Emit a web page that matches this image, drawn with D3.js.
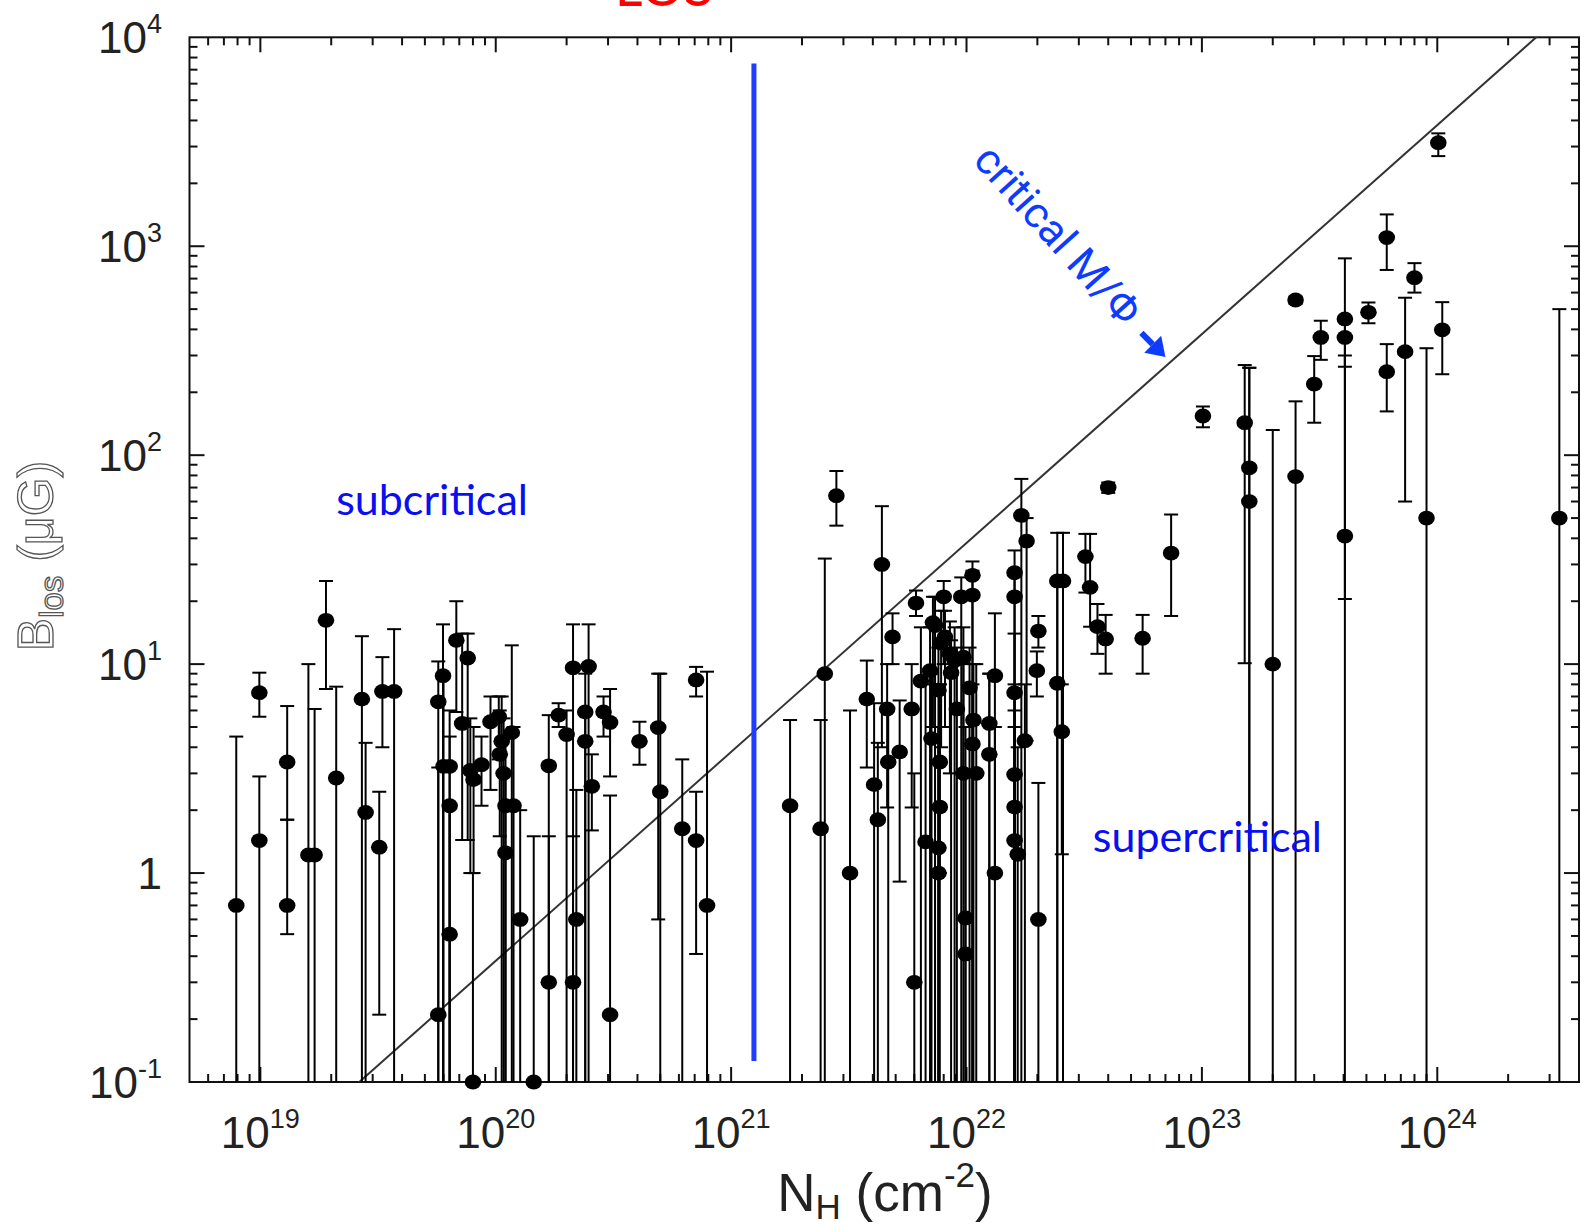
<!DOCTYPE html>
<html>
<head>
<meta charset="utf-8">
<script src="https://cdn.jsdelivr.net/npm/d3@7"></script>
<style>
  body { margin: 0; background: #fff; }
  svg { display: block; }
</style>
</head>
<body>
<div class="chart"></div>
<script>
// each row: [N_H (cm^-2), B_los (uG), lower end of bar, upper end of bar]
// a lower end of 0 means the bar runs off the bottom of the plot
const leftGroup = [
  [7.9e18, 0.70, 0, 4.5], [9.9e18, 7.3, 5.6, 9.1], [9.9e18, 1.43, 0, 2.9],
  [1.3e19, 3.4, 1.8, 6.3], [1.3e19, 0.70, 0.51, 1.8], [1.6e19, 1.22, 0, 10],
  [1.7e19, 1.22, 0, 6.1], [1.9e19, 16.2, 7.6, 25], [2.1e19, 2.85, 0, 7.8],
  [2.7e19, 6.8, 0, 13.6], [2.8e19, 1.95, 0, 4.2], [3.2e19, 1.33, 0.21, 2.45],
  [3.3e19, 7.4, 4.0, 10.8], [3.7e19, 7.4, 0, 14.7]
];
const midGroup = [
  [5.7e19, 6.6, 0, 10.3], [5.7e19, 0.21, 0, 3.2], [5.97e19, 8.8, 0, 15.5],
  [6.0e19, 3.24, 0, 8.8], [6.37e19, 3.24, 0, 6.0], [6.37e19, 2.1, 0, 4.5],
  [6.37e19, 0.51, 0, 2.1], [6.8e19, 13, 5.9, 20], [7.2e19, 5.2, 1.44, 14],
  [7.6e19, 10.7, 1.44, 14], [7.8e19, 3.1, 1.0, 5.5], [8.0e19, 0.1, 0, 1.0],
  [8.05e19, 2.8, 1.0, 5.0], [8.7e19, 3.3, 2.1, 4.5], [9.5e19, 5.3, 2.5, 7.0],
  [1.03e20, 5.6, 3.5, 7.0], [1.04e20, 3.7, 1.5, 6.0], [1.06e20, 4.27, 0, 7.0],
  [1.08e20, 3.0, 0, 5.5], [1.1e20, 2.1, 0, 4.5], [1.1e20, 1.25, 0, 3.0],
  [1.17e20, 4.7, 0, 12.3], [1.19e20, 2.1, 0, 5.0], [1.27e20, 0.6, 0, 2.0],
  [1.45e20, 0.1, 0, 1.5], [1.68e20, 3.26, 0, 5.7], [1.68e20, 0.3, 0, 1.5],
  [1.85e20, 5.7, 5.0, 6.5], [2.0e20, 4.6, 0, 6.0], [2.13e20, 9.6, 0, 15.5],
  [2.13e20, 0.3, 0, 1.5], [2.2e20, 0.6, 0, 2.5], [2.4e20, 5.9, 0, 9.0],
  [2.4e20, 4.27, 0, 6.0], [2.48e20, 9.75, 0, 15.5], [2.56e20, 2.6, 1.6, 3.7],
  [2.87e20, 5.9, 4.5, 7.0], [3.06e20, 5.26, 2.9, 7.6], [3.06e20, 0.21, 0, 2.35],
  [4.08e20, 4.27, 3.3, 5.3], [4.9e20, 4.97, 0.6, 9.0], [5.0e20, 2.45, 0, 9.0],
  [6.2e20, 1.63, 0, 3.5], [7.1e20, 8.4, 7.0, 9.7], [7.1e20, 1.43, 0.41, 2.45],
  [7.9e20, 0.70, 0, 9.2]
];
const denseGroup = [
  [1.78e21, 2.1, 0, 5.4], [2.4e21, 1.63, 0, 5.4], [2.5e21, 9.0, 0, 32],
  [2.8e21, 64, 46, 84], [3.2e21, 1.0, 0, 6.0], [3.77e21, 6.8, 3.2, 10.4],
  [4.05e21, 2.65, 0, 6.5], [4.2e21, 1.8, 0, 4.2], [4.37e21, 30, 4.0, 57],
  [4.6e21, 6.1, 2.06, 10], [4.65e21, 3.4, 0, 6.2], [4.85e21, 13.5, 10, 17.5],
  [5.2e21, 3.8, 0.91, 6.7], [5.85e21, 6.1, 2.06, 10], [6.0e21, 0.30, 0, 3.0],
  [6.1e21, 19.6, 17, 22.5], [6.4e21, 8.3, 0, 15], [6.7e21, 1.41, 0, 8],
  [7.0e21, 9.3, 0, 15], [7.1e21, 4.4, 0, 9], [7.2e21, 15.8, 5, 21],
  [7.35e21, 15.3, 0, 21], [7.6e21, 7.5, 0, 12], [7.6e21, 1.32, 0, 5],
  [7.6e21, 1.0, 0, 5], [7.7e21, 3.4, 1.0, 8], [7.7e21, 2.07, 0, 8],
  [7.8e21, 12.6, 4, 18], [8.0e21, 21, 10, 25], [8.1e21, 13.5, 5, 18],
  [8.5e21, 11.2, 3, 16], [8.6e21, 9.1, 0, 13], [8.9e21, 10.4, 0, 15],
  [9.1e21, 6.1, 0, 12], [9.5e21, 21, 0, 26], [9.7e21, 10.8, 3, 15],
  [9.7e21, 3.0, 0, 10], [9.9e21, 0.61, 0, 5], [9.9e21, 0.41, 0, 3],
  [1.03e22, 7.7, 0, 12], [1.06e22, 26.6, 0, 31], [1.06e22, 21.4, 0, 28],
  [1.06e22, 4.15, 0, 8], [1.07e22, 5.4, 0, 10], [1.1e22, 3.0, 0, 10],
  [1.25e22, 5.2, 0, 9], [1.25e22, 3.7, 0, 9], [1.32e22, 8.8, 1.0, 17.5],
  [1.32e22, 1.0, 0, 5], [1.6e22, 27.4, 0, 35], [1.6e22, 21, 0, 28],
  [1.6e22, 7.3, 0, 14], [1.6e22, 2.96, 0, 8], [1.6e22, 2.07, 0, 6],
  [1.6e22, 1.43, 0, 5], [1.65e22, 1.23, 0, 4], [1.71e22, 51.5, 0, 77],
  [1.77e22, 4.3, 0, 8], [1.8e22, 38.8, 4.3, 50], [1.99e22, 9.3, 7, 11.5],
  [2.02e22, 14.4, 12, 17], [2.02e22, 0.6, 0, 2.7], [2.43e22, 25, 0, 42.5],
  [2.43e22, 8.1, 0, 25], [2.54e22, 4.75, 1.23, 8], [2.57e22, 25, 0, 42.5]
];
const rightGroup = [
  [3.2e22, 32.7, 22, 42], [3.35e22, 23.3, 15.1, 42], [3.6e22, 15.1, 11.2, 19.4],
  [3.9e22, 13.2, 9.0, 17.2], [4.0e22, 70, 66, 74], [5.6e22, 13.3, 9.0, 17.2],
  [7.4e22, 34, 17, 52], [1.01e23, 154, 136, 171], [1.52e23, 143, 10.1, 270],
  [1.59e23, 87, 0, 262], [1.59e23, 60, 0, 262], [2.0e23, 10, 0, 132],
  [2.5e23, 553, 530, 575], [2.5e23, 79, 0, 181], [3.0e23, 219, 143, 298],
  [3.2e23, 366, 286, 440], [4.05e23, 449, 0, 875], [4.05e23, 366, 265, 460],
  [4.05e23, 41, 20.5, 300], [5.1e23, 483, 428, 538], [6.1e23, 1100, 770, 1420],
  [6.1e23, 251, 162, 340], [7.3e23, 313, 60, 567], [8.0e23, 707, 600, 830],
  [9.0e23, 50, 0, 325], [1.01e24, 3130, 2700, 3470], [1.05e24, 398, 244, 540],
  [3.3e24, 50, 0, 500]
];

const xDecades = [19, 20, 21, 22, 23, 24];
const yDecades = [-1, 0, 1, 2, 3, 4];
const critRatio = 3.8e-21;   // B = critRatio * N_H along critical M/Phi
const losSplit = 1.25e21;    // blue divider
const losSpan = [0.126, 7500];

const W = 1581, H = 1227;
const MARGINS = {top: 37.3, right: 2, bottom: 145, left: 189.5};

const svg = d3.select('.chart').append('svg')
  .attr('width', W)
  .attr('height', H);

const x = d3.scaleLog().domain([5e18, 4e24]).range([MARGINS.left, W - MARGINS.right]);
const y = d3.scaleLog().domain([0.1, 1e4]).range([H - MARGINS.bottom, MARGINS.top]);
const x0 = x.range()[0], x1 = x.range()[1];
const yBot = y.range()[0], yTop = y.range()[1];

svg.append('clipPath').attr('id', 'plot')
  .append('rect')
  .attr('x', x0).attr('y', yTop)
  .attr('width', x1 - x0).attr('height', yBot - yTop);

// ticks on all four sides, pointing inward
const isMajor = v => Math.abs(Math.log10(v) - Math.round(Math.log10(v))) < 1e-6;
const tickG = svg.append('g').attr('stroke', '#111').attr('stroke-width', 2);
x.ticks().filter(v => v > 5.0001e18 && v < 3.999e24).forEach(v => {
  let len = isMajor(v) ? 15 : 8;
  tickG.append('line').attr('x1', x(v)).attr('x2', x(v)).attr('y1', yBot).attr('y2', yBot - len);
  tickG.append('line').attr('x1', x(v)).attr('x2', x(v)).attr('y1', yTop).attr('y2', yTop + len);
});
y.ticks().filter(v => v > 0.10001 && v < 9999).forEach(v => {
  let len = isMajor(v) ? 15 : 8;
  tickG.append('line').attr('y1', y(v)).attr('y2', y(v)).attr('x1', x0).attr('x2', x0 + len);
  tickG.append('line').attr('y1', y(v)).attr('y2', y(v)).attr('x1', x1).attr('x2', x1 - len);
});

// frame
svg.append('rect')
  .attr('x', x0).attr('y', yTop)
  .attr('width', x1 - x0).attr('height', yBot - yTop)
  .attr('fill', 'none').attr('stroke', '#111').attr('stroke-width', 2);

// tick labels
const labelFont = '"Liberation Sans", Arial, sans-serif';
xDecades.forEach(d => {
  let t = svg.append('text')
    .attr('x', x(Math.pow(10, d))).attr('y', yBot + 66)
    .attr('text-anchor', 'middle')
    .style('font-family', labelFont).style('font-size', '44px').style('fill', '#222');
  t.append('tspan').text('10');
  t.append('tspan').attr('dy', -20).style('font-size', '27px').text(d);
});
yDecades.forEach(d => {
  let t = svg.append('text')
    .attr('x', 162).attr('y', y(Math.pow(10, d)) + 16)
    .attr('text-anchor', 'end')
    .style('font-family', labelFont).style('font-size', '44px').style('fill', '#222');
  if (d === 0) {
    t.text('1');
  } else {
    t.append('tspan').text('10');
    t.append('tspan').attr('dy', -20).style('font-size', '27px').text(d < 0 ? '-' + (-d) : d);
  }
});

// axis titles
let xt = svg.append('text')
  .attr('x', 885).attr('y', 1211)
  .attr('text-anchor', 'middle')
  .style('font-family', labelFont).style('font-size', '53px').style('fill', '#222');
xt.append('tspan').text('N');
xt.append('tspan').attr('dy', 8).style('font-size', '35px').text('H');
xt.append('tspan').attr('dy', -8).text(' (cm');
xt.append('tspan').attr('dy', -24).style('font-size', '35px').text('-2');
xt.append('tspan').attr('dy', 24).text(')');

let yt = svg.append('text')
  .attr('transform', 'translate(53,556) rotate(-90)')
  .attr('text-anchor', 'middle')
  .style('font-family', labelFont).style('font-size', '50px')
  .style('fill', '#fff').style('stroke', '#555').style('stroke-width', 1.3);
yt.append('tspan').text('B');
yt.append('tspan').attr('dy', 10).style('font-size', '33px').text('los');
yt.append('tspan').attr('dy', -10).text(' (\u03bcG)');

// critical M/Phi line
const lineFunction = d3.line()
  .x(d => x(d))
  .y(d => y(critRatio * d));
svg.append('path')
  .attr('clip-path', 'url(#plot)')
  .attr('d', lineFunction([5e18, 4e24]))
  .attr('fill', 'none')
  .attr('stroke', '#333')
  .attr('stroke-width', 2);

// blue divider
svg.append('line')
  .attr('x1', x(losSplit)).attr('x2', x(losSplit))
  .attr('y1', y(losSpan[0])).attr('y2', y(losSpan[1]))
  .attr('stroke', '#1f3dff')
  .attr('stroke-width', 5);

// data: error bars and points
const points = leftGroup.concat(midGroup, denseGroup, rightGroup);
const capW = 7;
const bars = svg.append('g').attr('stroke', '#000').attr('stroke-width', 2);
points.forEach(d => {
  let cx = x(d[0]);
  let yLo = d[2] > 0 ? y(d[2]) : yBot;
  let yHi = y(d[3]);
  bars.append('line').attr('x1', cx).attr('x2', cx).attr('y1', yLo).attr('y2', yHi);
  bars.append('line').attr('x1', cx - capW).attr('x2', cx + capW).attr('y1', yHi).attr('y2', yHi);
  if (d[2] > 0) {
    bars.append('line').attr('x1', cx - capW).attr('x2', cx + capW).attr('y1', yLo).attr('y2', yLo);
  }
});
svg.selectAll('.dot')
  .data(points)
  .enter()
  .append('ellipse')
  .attr('class', 'dot')
  .attr('cx', d => x(d[0]))
  .attr('cy', d => y(d[1]))
  .attr('rx', 8.3)
  .attr('ry', 7.4)
  .attr('fill', '#000');

// annotations
const noteFont = 'Lato, "Open Sans", sans-serif';
svg.append('text')
  .attr('x', x(2.1e19)).attr('y', y(52))
  .style('font-family', noteFont).style('font-size', '43px').style('fill', '#0a0ff0')
  .text('subcritical');
svg.append('text')
  .attr('x', x(3.44e22)).attr('y', y(1.26))
  .style('font-family', noteFont).style('font-size', '43px').style('fill', '#0a0ff0')
  .text('supercritical');

const cxT = x(2.45e22), cyT = y(1133);
svg.append('text')
  .attr('transform', 'translate(' + cxT + ',' + cyT + ') rotate(48)')
  .attr('text-anchor', 'middle')
  .attr('dominant-baseline', 'central')
  .style('font-family', 'Roboto, sans-serif').style('font-size', '43px').style('fill', '#0d3cff')
  .text('critical M/\u03a6');

// arrow pointing at the line
const tipX = x(7.0e22), tipY = y(295);
const ang = Math.PI / 4;
const ux = Math.cos(ang), uy = Math.sin(ang);
const bx = tipX - 18 * ux, by = tipY - 18 * uy;
svg.append('line')
  .attr('x1', tipX - 34 * ux).attr('y1', tipY - 34 * uy)
  .attr('x2', bx).attr('y2', by)
  .attr('stroke', '#0d3cff').attr('stroke-width', 6);
svg.append('path')
  .attr('d', 'M' + tipX + ',' + tipY +
    'L' + (bx - 12 * uy) + ',' + (by + 12 * ux) +
    'L' + (bx + 12 * uy) + ',' + (by - 12 * ux) + 'Z')
  .attr('fill', '#0d3cff');

// red title, mostly cut off by the top edge as in the source
svg.append('text')
  .attr('x', 664).attr('y', 6)
  .attr('text-anchor', 'middle')
  .style('font-family', noteFont).style('font-size', '54px').style('fill', '#ff0000')
  .text('LOS');
</script>
</body>
</html>
